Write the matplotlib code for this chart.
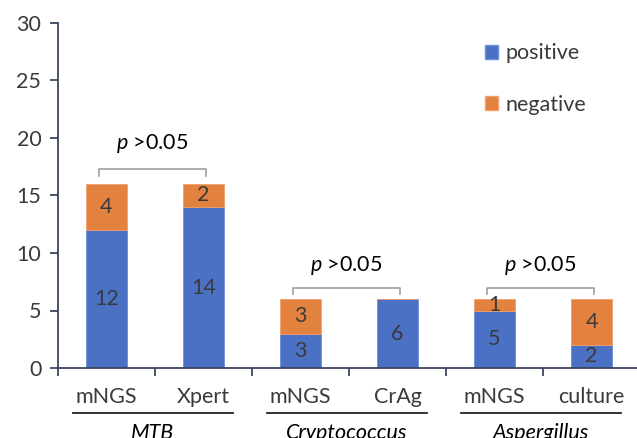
import matplotlib
matplotlib.use("Agg")
import matplotlib.pyplot as plt
from matplotlib.patches import Patch
from matplotlib.lines import Line2D
import matplotlib.transforms as mtransforms

plt.rcParams['font.family'] = ['Lato', 'DejaVu Sans']
plt.rcParams['mathtext.fontset'] = 'custom'
plt.rcParams['mathtext.it'] = 'Lato:italic'
plt.rcParams['mathtext.rm'] = 'Lato'

methods = ["mNGS", "Xpert", "mNGS", "CrAg", "mNGS", "culture"]
groups = ["MTB", "Cryptococcus", "Aspergillus"]
positive = [12, 14, 3, 6, 5, 2]
negative = [4, 2, 3, 0, 1, 4]
p_labels = ["p >0.05", "p >0.05", "p >0.05"]

BLUE = "#4A71C4"
ORANGE = "#E3813F"
TXT = "#3A3A3A"
AX = "#3A4560"
FS = 15.5

W, H = 637, 438
fig = plt.figure(figsize=(W / 100, H / 100), dpi=100)
ax = fig.add_axes([58 / W, 70 / H, 582 / W, 345 / H])

x = list(range(len(methods)))
bw = 0.42
ax.bar(x, positive, width=bw, color=BLUE, edgecolor="#6E8FD6", linewidth=0.6, label="positive", zorder=2)
ax.bar(x, negative, width=bw, bottom=positive, color=ORANGE, edgecolor="#F0A070", linewidth=0.6, label="negative", zorder=2)

for i in x:
    ax.text(i, positive[i] / 2, str(positive[i]), ha="center", va="center", fontsize=FS, color=TXT, zorder=3)
    if negative[i] > 0:
        ax.text(i, positive[i] + negative[i] / 2, str(negative[i]), ha="center", va="center", fontsize=FS, color=TXT, zorder=3)

ax.set_xlim(-0.5, 5.5)
ax.set_ylim(0, 30)
ax.set_yticks(range(0, 31, 5))
ax.set_xticks([i - 0.5 for i in range(7)])
ax.set_xticklabels([])
ax.tick_params(axis="y", direction="out", length=6, width=1.3, color=AX, labelcolor=TXT, labelsize=FS, pad=6)
ax.tick_params(axis="x", direction="out", length=6, width=1.3, color=AX)
for s in ["top", "right"]:
    ax.spines[s].set_visible(False)
for s in ["left", "bottom"]:
    ax.spines[s].set_color(AX)
    ax.spines[s].set_linewidth(1.3)

trans = mtransforms.blended_transform_factory(ax.transData, ax.transAxes)
for i, m in enumerate(methods):
    ax.text(i, -0.084, m, transform=trans, ha="center", va="center", fontsize=FS, color=TXT, clip_on=False)

for g, name in enumerate(groups):
    x0, x1 = 2 * g - 0.35, 2 * g + 1.30
    ax.add_line(Line2D([x0, x1], [-0.130, -0.130], transform=trans, color="#222222", lw=1.3, clip_on=False))
    ax.text((x0 + x1) / 2, -0.158, name, transform=trans, ha="center", va="top", fontsize=FS, color="black",
            style="italic", clip_on=False)

br_y = [17.3, 7.0, 7.0]
txt_y = [19.5, 8.9, 8.9]
for g in range(3):
    xa, xb = 2 * g - 0.08, 2 * g + 1.03
    yb = br_y[g]
    ax.plot([xa, xa, xb, xb], [yb - 0.6, yb, yb, yb - 0.6], color="#A0A0A0", lw=1.2, clip_on=False)
    lbl = p_labels[g]
    ax.text((xa + xb) / 2, txt_y[g], r"$\it{" + lbl[0] + "}$" + lbl[1:], ha="center", va="center",
            fontsize=FS, color="black")

handles = [Patch(facecolor=BLUE, edgecolor="#6E8FD6", label="positive"),
           Patch(facecolor=ORANGE, edgecolor="#F0A070", label="negative")]
leg = fig.legend(handles=handles, loc="upper left", bbox_to_anchor=(466 / W, 1 - 24 / H), frameon=False,
                 fontsize=FS, handlelength=0.6, handleheight=0.6, handletextpad=0.35, labelspacing=1.45,
                 labelcolor=TXT)

fig.savefig("out.png", dpi=100)
